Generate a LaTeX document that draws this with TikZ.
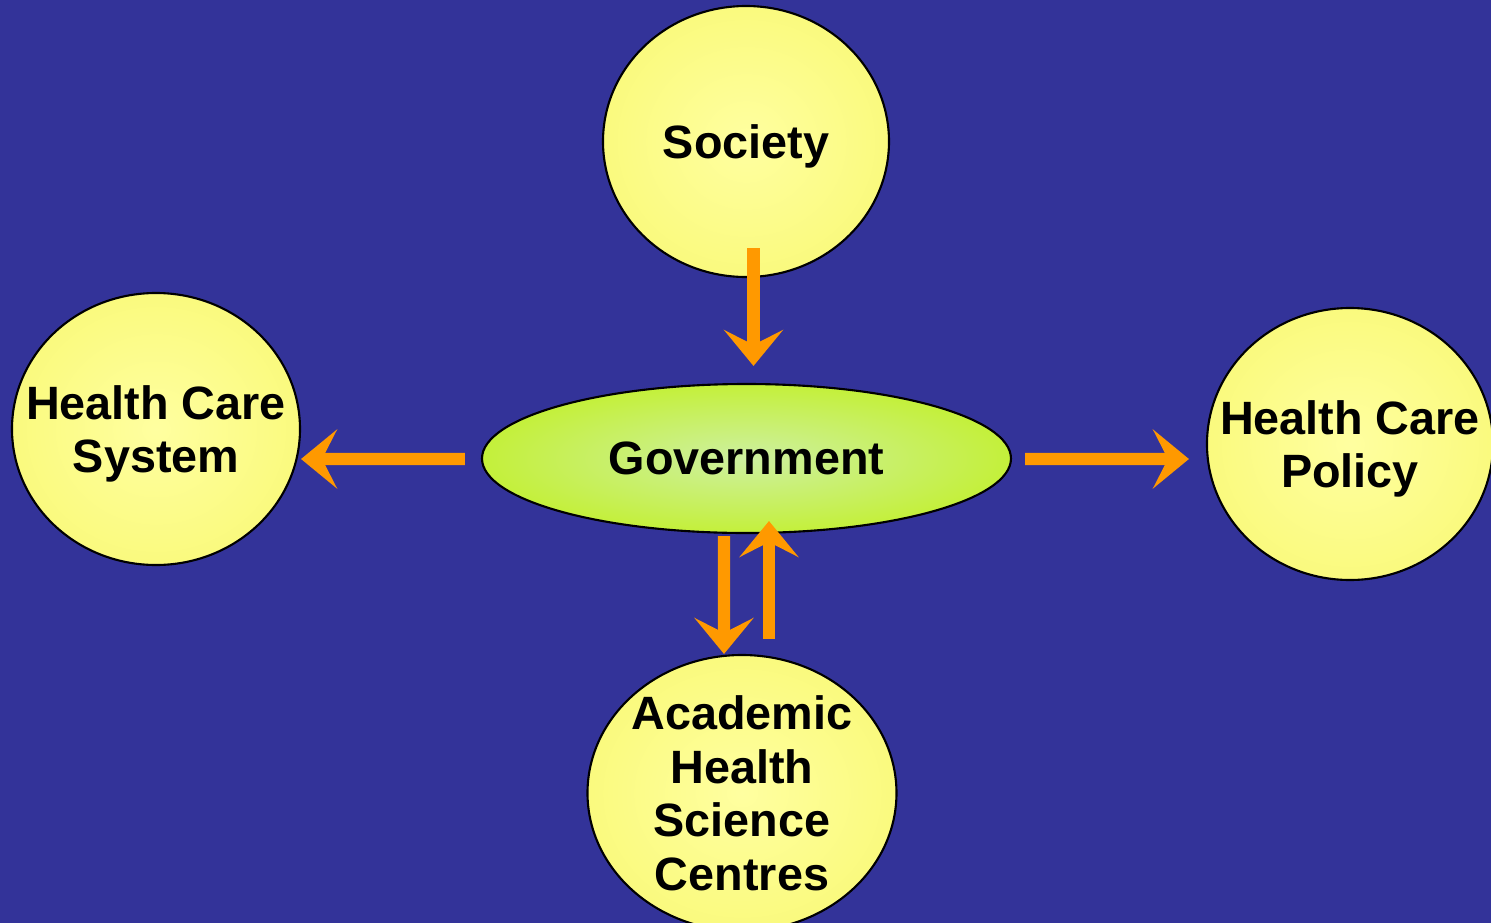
\documentclass[tikz,border=0pt]{standalone}
\usepackage{fontspec}
\setmainfont{Liberation Sans}
\usetikzlibrary{shapes.geometric,arrows.meta}
\definecolor{slide}{HTML}{333399}
\definecolor{bubble}{HTML}{FFFFA0}
\definecolor{bubbleedge}{HTML}{FAFA7E}
\definecolor{govin}{HTML}{CDF0A0}
\definecolor{govout}{HTML}{C4F03A}
\definecolor{flowor}{HTML}{FF9900}

\tikzset{
  actor/.style={ellipse, draw=black, line width=0.6pt, inner sep=-0.6cm,
    inner color=bubble, outer color=bubbleedge, align=center, text depth=0pt,
    font=\fontsize{13.3}{15.3}\selectfont\bfseries},
  flow/.style={draw=flowor, line width=3.5pt,
    -{Stealth[length=0.36cm,width=0.59cm,inset=0.15cm,fill=flowor]}}
}

\begin{document}
\begin{tikzpicture}

% slide background
\fill[slide] (0,0) rectangle (14.91,-9.23);
\useasboundingbox (0,0) rectangle (14.91,-9.23);
\clip (0,0) rectangle (14.91,-9.23);

% the five actors
\node[actor, minimum width=2.86cm, minimum height=2.71cm] (society) at (7.46,-1.415) {Society};
\node[actor, minimum width=2.88cm, minimum height=2.72cm] (hcsystem) at (1.56,-4.29) {Health Care\\System};
\node[actor, minimum width=2.86cm, minimum height=2.72cm] (hcpolicy) at (13.50,-4.44) {Health Care\\Policy};
\node[actor, minimum width=3.09cm, minimum height=2.76cm] (ahsc) at (7.42,-7.93) {Academic\\Health\\Science\\Centres};
\node[actor, minimum width=5.29cm, minimum height=1.49cm, inner color=govin, outer color=govout] (govt) at (7.465,-4.585) {Government};

% influence arrows
\draw[flow] ([xshift=0.075cm,yshift=0.3cm]society.south) -- ([xshift=0.07cm,yshift=0.17cm]govt.north);
\draw[flow] ([xshift=-0.16cm,yshift=-0.005cm]govt.west) -- ([yshift=-0.3cm]hcsystem.east);
\draw[flow] ([xshift=0.13cm,yshift=-0.005cm]govt.east) -- ([xshift=-0.17cm,yshift=-0.15cm]hcpolicy.west);
\draw[flow] ([xshift=-0.225cm,yshift=-0.02cm]govt.south) -- ([xshift=-0.18cm]ahsc.north);
\draw[flow] ([xshift=0.27cm,yshift=0.15cm]ahsc.north) -- ([xshift=0.225cm,yshift=0.13cm]govt.south);

\end{tikzpicture}
\end{document}
